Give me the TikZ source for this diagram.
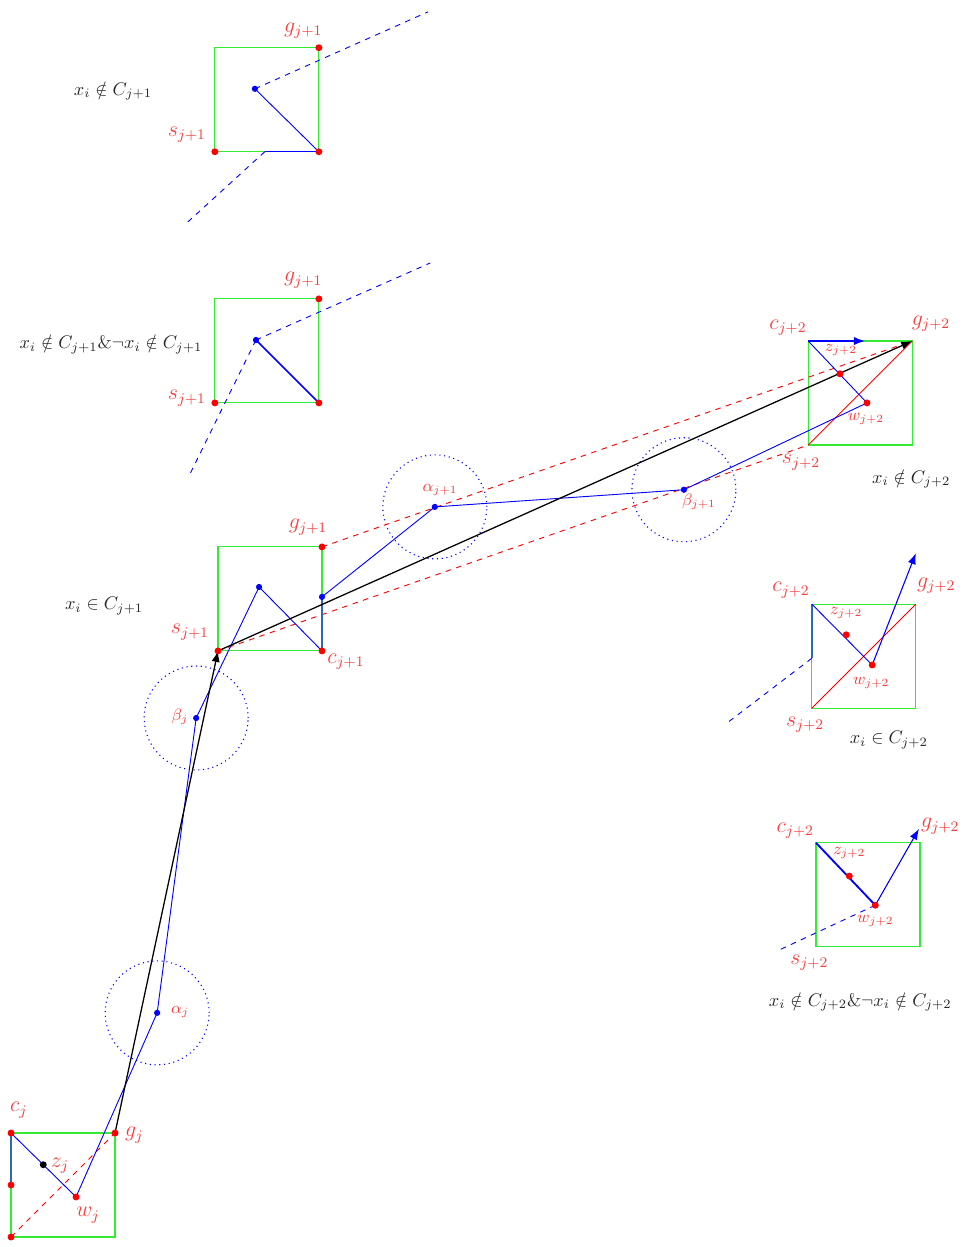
\documentclass[tikz,border=0pt]{standalone}
\usepackage{amsmath,amssymb}
\usetikzlibrary{arrows.meta,positioning}
\definecolor{lblred}{RGB}{250,60,60}
\definecolor{boxgreen}{RGB}{50,235,50}
\definecolor{edgeblue}{RGB}{45,105,180}
\definecolor{txtgray}{RGB}{40,40,40}

\begin{document}
\begin{tikzpicture}[x=1cm,y=1cm,
    box/.style={boxgreen,line width=0.6pt},
    bpath/.style={blue,line width=0.5pt},
    bedge/.style={edgeblue,line width=1.1pt},
    bdash/.style={blue,dashed,line width=0.5pt},
    rdash/.style={red,dashed,line width=0.5pt},
    ring/.style={blue,dotted,line width=0.6pt},
    jump/.style={black,line width=0.7pt,-{Latex[length=6pt,width=4.5pt]}},
    barrow/.style={blue,line width=0.6pt,-{Latex[length=6pt,width=4.5pt]}},
    lab/.style={lblred,font=\large},
    slab/.style={lblred,font=\small},
    note/.style={txtgray}]
  \useasboundingbox (-0.212,-0.192) rectangle (18.269,23.788);

  % panel A: x_i not in C_{j+1}
  \coordinate (sA) at (3.92,20.87);
  \coordinate (gA) at (5.92,22.87);
  \coordinate (cA) at (5.92,20.87);
  \coordinate (xA) at (4.69,22.08);
  \coordinate (eA) at (4.88,20.87);
  \coordinate (dA1) at (8.02,23.56);
  \coordinate (dA2) at (3.40,19.52);
  \draw[box] (sA) rectangle (gA);
  \draw[bpath] (xA) -- (cA);
  \draw[blue,line width=0.8pt] (cA) -- (eA);
  \draw[bdash] (xA) -- (dA1);
  \draw[bdash] (eA) -- (dA2);
  \node[lab] (lgA) at (5.62,23.20) {$g_{j+1}$};
  \node[lab] (lsA) at (3.38,21.20) {$s_{j+1}$};
  \node[note] (tA) at (1.96,22.04) {$x_i\notin C_{j+1}$};

  % panel B
  \coordinate (sB) at (3.92,16.04);
  \coordinate (gB) at (5.92,18.04);
  \coordinate (cB) at (5.92,16.04);
  \coordinate (xB) at (4.71,17.25);
  \coordinate (dB1) at (8.06,18.73);
  \coordinate (dB2) at (3.44,14.67);
  \draw[box] (sB) rectangle (gB);
  \draw[blue,line width=0.8pt] (xB) -- (cB);
  \draw[bdash] (xB) -- (dB1);
  \draw[bdash] (xB) -- (dB2);
  \node[lab] (lgB) at (5.62,18.40) {$g_{j+1}$};
  \node[lab] (lsB) at (3.38,16.13) {$s_{j+1}$};
  \node[note] (tB) at (1.92,17.17) {$x_i\notin C_{j+1}\&\neg x_i\notin C_{j+1}$};

  % main path j -> j+1 -> j+2
  \coordinate (sj) at (0,0);
  \coordinate (cj) at (0,2);
  \coordinate (gj) at (2,2);
  \coordinate (mj) at (0,1);
  \coordinate (wj) at (1.25,0.77);
  \coordinate (zj) at (0.62,1.39);
  \coordinate (alphaj) at (2.81,4.31);
  \coordinate (betaj) at (3.56,9.98);
  \coordinate (s1) at (3.98,11.27);
  \coordinate (c1) at (5.98,11.27);
  \coordinate (g1) at (5.98,13.27);
  \coordinate (p1) at (4.77,12.50);
  \coordinate (e1) at (5.98,12.31);
  \coordinate (alpha1) at (8.15,14.04);
  \coordinate (beta1) at (12.94,14.37);
  \coordinate (sC) at (15.33,15.23);
  \coordinate (cC) at (15.33,17.23);
  \coordinate (gC) at (17.33,17.23);
  \coordinate (zC) at (15.94,16.60);
  \coordinate (wC) at (16.46,16.04);
  \coordinate (qC) at (16.42,17.23);

  \draw[box] (sj) rectangle (gj);
  \draw[box] (s1) rectangle (g1);
  \draw[box] (sC) rectangle (gC);
  \foreach \p in {alphaj,betaj,alpha1,beta1}
    \draw[ring] (\p) circle (1);

  \draw[rdash] (sj) -- (gj);
  \draw[rdash] (g1) -- (gC);
  \draw[rdash] (s1) -- (sC);
  \draw[red,line width=0.5pt] (sC) -- (gC);
  \draw[bedge] (cj) -- (mj);
  \draw[bedge] (c1) -- (e1);
  \draw[bpath] (cj) -- (zj) -- (wj) -- (alphaj) -- (betaj) -- (p1) -- (c1);
  \draw[bpath] (e1) -- (alpha1) -- (beta1) -- (wC) -- (cC);
  \draw[barrow] (cC) -- (qC);
  \draw[jump] (gj) -- (s1);
  \draw[jump] (s1) -- (gC);

  \node[lab] (lcj) at (0.15,2.44) {$c_j$};
  \node[lab] (lgj) at (2.37,1.96) {$g_j$};
  \node[lab] (lzj) at (0.94,1.37) {$z_j$};
  \node[lab] (lwj) at (1.48,0.42) {$w_j$};
  \node[slab] (laj) at (3.25,4.33) {$\alpha_j$};
  \node[slab] (lbj) at (3.25,10.00) {$\beta_j$};
  \node[lab] (lg1) at (5.71,13.65) {$g_{j+1}$};
  \node[lab] (ls1) at (3.44,11.63) {$s_{j+1}$};
  \node[lab] (lc1) at (6.44,11.06) {$c_{j+1}$};
  \node[slab] (la1) at (8.25,14.37) {$\alpha_{j+1}$};
  \node[slab] (lb1) at (13.23,14.13) {$\beta_{j+1}$};
  \node[note] (tM) at (1.79,12.13) {$x_i\in C_{j+1}$};
  \node[lab] (lcC) at (14.94,17.48) {$c_{j+2}$};
  \node[lab] (lgC) at (17.69,17.56) {$g_{j+2}$};
  \node[lab] (lsC) at (15.19,14.90) {$s_{j+2}$};
  \node[slab] (lzC) at (15.96,17.06) {$z_{j+2}$};
  \node[slab] (lwC) at (16.44,15.73) {$w_{j+2}$};
  \node[note] (tC) at (17.31,14.58) {$x_i\notin C_{j+2}$};

  % panel D: x_i in C_{j+2}
  \coordinate (sD) at (15.40,10.17);
  \coordinate (cD) at (15.40,12.17);
  \coordinate (gD) at (17.40,12.17);
  \coordinate (zD) at (16.06,11.58);
  \coordinate (wD) at (16.56,11.00);
  \coordinate (qD) at (17.40,13.15);
  \coordinate (eD) at (15.40,11.13);
  \coordinate (dD) at (13.75,9.87);
  \draw[box] (sD) rectangle (gD);
  \draw[red,line width=0.5pt] (sD) -- (gD);
  \draw[bedge] (cD) -- (eD);
  \draw[bdash] (eD) -- (dD);
  \draw[bpath] (cD) -- (wD);
  \draw[barrow] (wD) -- (qD);
  \node[lab] (lcD) at (15.00,12.44) {$c_{j+2}$};
  \node[lab] (lgD) at (17.79,12.52) {$g_{j+2}$};
  \node[lab] (lsD) at (15.27,9.85) {$s_{j+2}$};
  \node[slab] (lzD) at (16.06,12.00) {$z_{j+2}$};
  \node[slab] (lwD) at (16.54,10.65) {$w_{j+2}$};
  \node[note] (tD) at (16.88,9.56) {$x_i\in C_{j+2}$};

  % panel E
  \coordinate (sE) at (15.48,5.58);
  \coordinate (cE) at (15.48,7.58);
  \coordinate (gE) at (17.48,7.58);
  \coordinate (zE) at (16.12,6.94);
  \coordinate (wE) at (16.62,6.38);
  \coordinate (qE) at (17.46,7.85);
  \coordinate (dE) at (14.73,5.50);
  \draw[box] (sE) rectangle (gE);
  \draw[blue,line width=1pt] (cE) -- (wE);
  \draw[bdash] (wE) -- (dE);
  \draw[barrow] (wE) -- (qE);
  \node[lab] (lcE) at (15.08,7.81) {$c_{j+2}$};
  \node[lab] (lgE) at (17.87,7.90) {$g_{j+2}$};
  \node[lab] (lsE) at (15.35,5.27) {$s_{j+2}$};
  \node[slab] (lzE) at (16.12,7.38) {$z_{j+2}$};
  \node[slab] (lwE) at (16.62,6.08) {$w_{j+2}$};
  \node[note] (tE) at (16.33,4.52) {$x_i\notin C_{j+2}\&\neg x_i\notin C_{j+2}$};

  % dots
  \foreach \p in {sA,gA,cA,sB,gB,cB,sj,cj,gj,mj,wj,s1,g1,c1,zC,wC,zD,wD,zE,wE}
    \fill[red] (\p) circle (1.9pt);
  \foreach \p in {xA,xB,p1,e1,alphaj,betaj,alpha1,beta1}
    \fill[blue] (\p) circle (1.7pt);
  \fill[black] (zj) circle (1.9pt);
\end{tikzpicture}
\end{document}
